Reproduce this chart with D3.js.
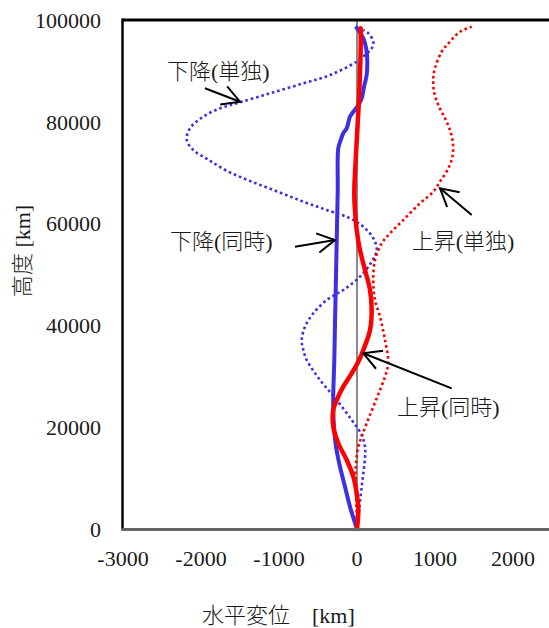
<!DOCTYPE html>
<html>
<head>
<meta charset="utf-8">
<script src="https://cdn.jsdelivr.net/npm/d3@7"></script>
<style>
  html, body { margin: 0; padding: 0; background: #fff; }
  svg { display: block; }
  text { font-family: "Liberation Serif", "Noto Sans CJK JP", serif; fill: #1a1a1a; font-weight: 300; }
</style>
</head>
<body>
<svg id="chart" width="549" height="628"></svg>
<script>
// ---- Data (horizontal displacement [km], altitude [km]) ----
const xTicks = [-3000, -2000, -1000, 0, 1000, 2000];
const yTicks = [0, 20000, 40000, 60000, 80000, 100000];

// 下降(単独) : descending alone (blue dotted)
const descAloneX = [0, 60, 103, 103, 60, -68, -260, -474, -645, -688, -709, -667, -560, -388, -176, 38, 188, 253, 209, 81, -90, -388, -688, -1020, -1360, -1660, -1900, -2099, -2183, -2141, -1971, -1756, -1500, -1115, -688, -346, -4, 103, 188, 209, 145, 81];
const descAloneY = [0, 8310, 14200, 16170, 18470, 21410, 25340, 29270, 33200, 35170, 37130, 39740, 42380, 44990, 46950, 49570, 52510, 54810, 57110, 59390, 61040, 62670, 64300, 66300, 68300, 70300, 72490, 74460, 76420, 78720, 81000, 82650, 83830, 85600, 87560, 89190, 91800, 93120, 94440, 95740, 97390, 98030];

// 上昇(単独) : ascending alone (red dotted)
const ascAloneX = [0, -13, -19, 17, 60, 124, 209, 295, 359, 401, 359, 295, 231, 209, 231, 317, 423, 594, 808, 978, 1064, 1171, 1227, 1227, 1192, 1128, 1042, 987, 978, 1000, 1086, 1192, 1321, 1471];
const ascAloneY = [0, 7660, 11590, 16170, 18130, 20770, 24030, 27310, 29920, 32550, 37130, 41710, 44990, 48920, 52850, 56130, 58090, 60710, 63990, 66270, 68230, 70860, 73480, 76090, 78390, 80690, 83300, 85910, 88540, 90510, 93770, 95740, 97700, 98680];

// 下降(同時) : descending simultaneous (blue solid)
const descSimX = [0, -90, -154, -218, -269, -295, -304, -304, -291, -282, -273, -260, -247, -240, -209, -176, -132, -90, -47, 17, 60, 90, 124, 132, 124, 81, 17, -4];
const descSimY = [0, 4380, 8310, 12240, 16170, 20100, 23380, 26660, 33200, 40410, 46950, 56780, 66600, 74790, 76420, 77740, 78720, 81000, 81980, 83300, 84610, 86890, 89190, 91800, 93770, 96400, 98030, 98480];

// 上昇(同時) : ascending simultaneous (red solid)
const ascSimX = [0, 17, -4, -47, -132, -240, -304, -304, -260, -176, -68, 17, 81, 167, 188, 167, 103, 38, -4, -26, -35, -4, 26, 47, 47];
const ascSimY = [0, 3730, 7010, 10270, 13560, 16840, 20100, 23380, 25340, 27960, 30590, 32870, 35170, 39100, 43020, 46950, 50880, 54810, 58740, 62670, 65950, 76090, 84610, 94440, 98370];

// Annotation labels, text anchor point and arrow (tail -> tip) in data units
const labelTexts = ["下降(単独)", "下降(同時)", "上昇(単独)", "上昇(同時)"];
const labelAtX = [-2436, -2397, 701, 513];
const labelAtY = [89980, 56580, 56580, 23970];
const arrowFromX = [-1949, -795, 1471, 1214];
const arrowFromY = [86580, 55460, 61690, 27640];
const arrowToX = [-1500, -282, 1064, 81];
const arrowToY = [83950, 56780, 66930, 34520];

const xTitle = "水平変位　[km]";
const yTitle = "高度 [km]";

// ---- Drawing ----
const svg = d3.select("#chart");
const x = d3.scaleLinear().domain([-3000, 2500]).range([123, 552]);
const y = d3.scaleLinear().domain([0, 100000]).range([529, 20]);

// zero reference line
svg.append("line")
  .attr("x1", x(0)).attr("x2", x(0))
  .attr("y1", y(100000)).attr("y2", y(0))
  .attr("stroke", "#8a8a8a").attr("stroke-width", 2);

const line = d3.line()
  .x(d => x(d[0])).y(d => y(d[1]))
  .curve(d3.curveCatmullRom.alpha(0.5));

const zip = (a, b) => a.map((v, i) => [v, b[i]]);
const BLUE = "#3c2fe4", RED = "#ff0000";

const series = [
  { pts: zip(descAloneX, descAloneY), color: BLUE, w: 2.6, dash: "2.6,2.9" },
  { pts: zip(ascAloneX, ascAloneY), color: RED, w: 2.6, dash: "2.6,2.9" },
  { pts: zip(descSimX, descSimY), color: BLUE, w: 4, dash: null },
  { pts: zip(ascSimX, ascSimY), color: RED, w: 4.5, dash: null }
];
series.forEach(s => {
  svg.append("path")
    .attr("d", line(s.pts))
    .attr("fill", "none")
    .attr("stroke", s.color)
    .attr("stroke-width", s.w)
    .attr("stroke-linejoin", "round")
    .attr("stroke-linecap", s.dash ? "butt" : "round")
    .attr("stroke-dasharray", s.dash);
});

// axes frame
svg.append("line").attr("x1", 122).attr("x2", 549).attr("y1", y(100000)).attr("y2", y(100000))
  .attr("stroke", "#000").attr("stroke-width", 3);
svg.append("line").attr("x1", x(-3000) - 0.5).attr("x2", x(-3000) - 0.5).attr("y1", y(100000) - 1.5).attr("y2", y(0) + 1)
  .attr("stroke", "#000").attr("stroke-width", 2.5);
svg.append("line").attr("x1", x(-3000) - 1.5).attr("x2", 549).attr("y1", y(0) + 0.5).attr("y2", y(0) + 0.5)
  .attr("stroke", "#666").attr("stroke-width", 3);

// y tick labels
svg.append("g").selectAll("text").data(yTicks).join("text")
  .attr("x", 101).attr("y", d => y(d)).attr("dy", "0.35em")
  .attr("text-anchor", "end").attr("font-size", 22)
  .text(d => d);

// x tick labels
svg.append("g").selectAll("text").data(xTicks).join("text")
  .attr("x", d => x(d)).attr("y", 558).attr("dy", "0.35em")
  .attr("text-anchor", "middle").attr("font-size", 22)
  .text(d => d);

// axis titles
svg.append("text").attr("x", 202).attr("y", 615).attr("dy", "0.35em")
  .attr("font-size", 22).text(xTitle);
svg.append("text")
  .attr("transform", `translate(22,${251}) rotate(-90)`)
  .attr("text-anchor", "middle").attr("dy", "0.35em")
  .attr("font-size", 22).text(yTitle);

// annotations
labelTexts.forEach((t, i) => {
  svg.append("text")
    .attr("x", x(labelAtX[i])).attr("y", y(labelAtY[i])).attr("dy", "0.35em")
    .attr("font-size", 22).text(t);
  const x1 = x(arrowFromX[i]), y1 = y(arrowFromY[i]);
  const x2 = x(arrowToX[i]), y2 = y(arrowToY[i]);
  const ang = Math.atan2(y1 - y2, x1 - x2);
  const L = 20, A = 29 * Math.PI / 180;
  const g = svg.append("g").attr("stroke", "#000").attr("stroke-width", 2).attr("fill", "none");
  g.append("line").attr("x1", x1).attr("y1", y1).attr("x2", x2).attr("y2", y2);
  g.append("path").attr("d",
    `M${x2 + L * Math.cos(ang + A)},${y2 + L * Math.sin(ang + A)}L${x2},${y2}L${x2 + L * Math.cos(ang - A)},${y2 + L * Math.sin(ang - A)}`);
});
</script>
</body>
</html>
